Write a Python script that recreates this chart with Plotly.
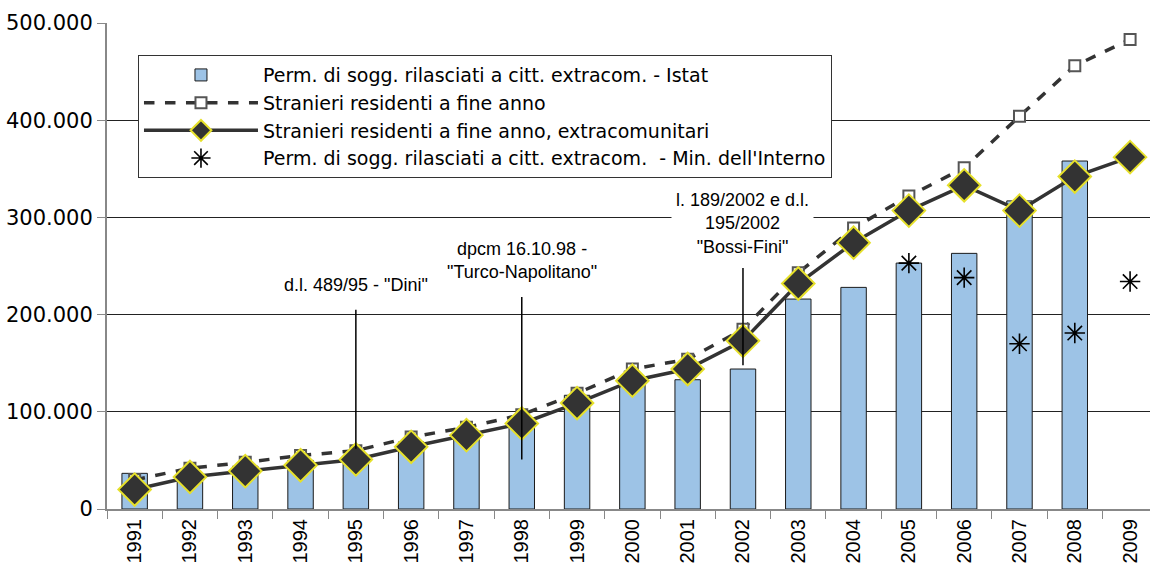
import plotly.graph_objects as go

years = [str(y) for y in range(1991, 2010)]
permessi_istat = [36700, 36000, 44000, 50000, 50000, 69000, 76000, 88000, 117000, 130000,
                  133000, 144000, 216000, 228000, 253000, 263000, 317000, 358000, None]
residenti = [30000, 42000, 48000, 55000, 60000, 74000, 84000, 97000, 119000, 144000,
             154000, 185000, 243000, 289000, 322000, 351000, 404000, 456000, 483000]
residenti_extra = [20000, 33000, 39000, 45000, 51000, 64000, 76000, 88000, 109000, 132000,
                   144000, 173000, 232000, 274000, 307000, 333000, 307000, 342000, 362000]
permessi_interno = [None] * 14 + [253000, 238000, 170000, 181000, 234000]

event_years = ["1995", "1998", "2002"]
event_line_top = [205000, 218000, 248000]
event_line_bottom = [62000, 51000, 148000]
event_labels = ['d.l. 489/95 - "Dini"', 'dpcm 16.10.98 -<br>"Turco-Napolitano"',
                'l. 189/2002 e d.l.<br>195/2002<br>"Bossi-Fini"']
event_label_y = [230000, 256000, 294000]

fig = go.Figure()
fig.add_trace(go.Bar(
    x=years, y=permessi_istat, width=0.46,
    name="Perm. di sogg. rilasciati a citt. extracom. - Istat",
    marker=dict(color="#9DC3E6", line=dict(color="#1a1a1a", width=1)),
))
fig.add_trace(go.Scatter(
    x=years, y=residenti, mode="lines+markers",
    name="Stranieri residenti a fine anno",
    line=dict(color="#333333", width=3.5, dash="dash"),
    marker=dict(symbol="square", size=11, color="white", line=dict(color="#555555", width=2)),
))
fig.add_trace(go.Scatter(
    x=years, y=residenti_extra, mode="lines+markers",
    name="Stranieri residenti a fine anno, extracomunitari",
    line=dict(color="#333333", width=3.5),
    marker=dict(symbol="diamond", size=25, color="#333333", line=dict(color="#E6E02A", width=2)),
))
fig.add_trace(go.Scatter(
    x=years, y=permessi_interno, mode="markers",
    name="Perm. di sogg. rilasciati a citt. extracom.  - Min. dell'Interno",
    marker=dict(symbol="asterisk-open", size=17, color="black", line=dict(color="black", width=1.6)),
))

for yr, top, bot, lab, ly in zip(event_years, event_line_top, event_line_bottom, event_labels, event_label_y):
    xi = years.index(yr)
    fig.add_shape(type="line", x0=xi, x1=xi, y0=bot, y1=top, xref="x", yref="y",
                  line=dict(color="black", width=1.5), layer="above")
    fig.add_annotation(x=xi, y=ly, xref="x", yref="y", text=lab, showarrow=False,
                       font=dict(family="Liberation Sans, Arial", size=18, color="black"),
                       bgcolor="white", borderpad=4, align="center", yanchor="middle")

fig.update_layout(
    width=1150, height=572,
    margin=dict(l=107, r=0, t=23, b=63),
    paper_bgcolor="white", plot_bgcolor="white",
    separators=",.",
    showlegend=True,
    legend=dict(
        x=0.0297, y=0.934, xanchor="left", yanchor="top",
        bgcolor="white", bordercolor="#333333", borderwidth=1,
        font=dict(family="DejaVu Sans", size=19, color="black"),
        itemwidth=114, tracegroupgap=0,
    ),
    xaxis=dict(
        type="category", range=[-0.5, 18.36],
        tickangle=-90, tickson="boundaries", ticks="outside", ticklen=8,
        tickcolor="#888888", showline=True, linecolor="#888888", linewidth=2,
        showgrid=False,
        tickfont=dict(family="Liberation Sans, Arial", size=20, color="black"),
    ),
    yaxis=dict(
        range=[0, 500000], dtick=100000, tickformat=",d",
        ticks="outside", ticklen=8, tickcolor="#888888",
        showline=True, linecolor="#888888", linewidth=2,
        showgrid=True, gridcolor="#222222", gridwidth=1,
        zeroline=False,
        tickfont=dict(family="DejaVu Sans", size=21, color="black"),
    ),
)

fig.write_html("out.html", config={"displayModeBar": False},
               post_script="document.body.style.margin='0';")
